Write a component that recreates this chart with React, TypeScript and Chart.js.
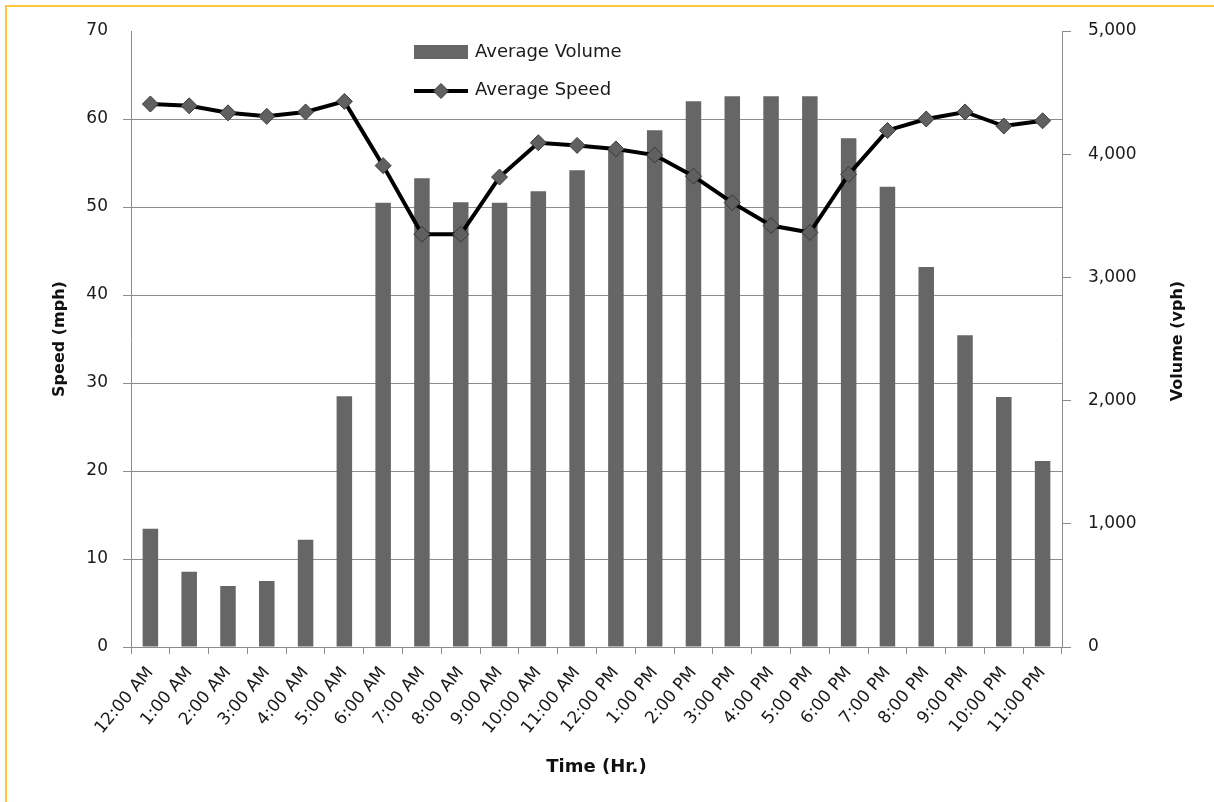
import React, { useEffect, useRef } from "react";
import { Chart, registerables } from "chart.js";

Chart.register(...registerables);

const hours: string[] = [
  "12:00 AM", "1:00 AM", "2:00 AM", "3:00 AM", "4:00 AM", "5:00 AM",
  "6:00 AM", "7:00 AM", "8:00 AM", "9:00 AM", "10:00 AM", "11:00 AM",
  "12:00 PM", "1:00 PM", "2:00 PM", "3:00 PM", "4:00 PM", "5:00 PM",
  "6:00 PM", "7:00 PM", "8:00 PM", "9:00 PM", "10:00 PM", "11:00 PM",
];

const averageVolume: number[] = [
  960, 610, 495, 535, 870, 2035, 3605, 3805, 3610, 3605, 3700, 3870,
  4040, 4195, 4430, 4470, 4470, 4470, 4130, 3735, 3085, 2530, 2030, 1510,
];

const averageSpeed: number[] = [
  61.7, 61.5, 60.7, 60.3, 60.8, 62.0, 54.7, 46.9, 46.9, 53.4, 57.3, 57.0,
  56.6, 55.9, 53.5, 50.5, 47.9, 47.1, 53.7, 58.7, 60.0, 60.8, 59.2, 59.8,
];

const seriesNames: string[] = ["Average Volume", "Average Speed"];
const axisTitles = { x: "Time (Hr.)", speed: "Speed (mph)", volume: "Volume (vph)" };

const TICK_FONT = "'DejaVu Sans', sans-serif";
const GRID = "#8c8c8c";
const BAR = "#666666";

const legendPlugin = {
  id: "customLegend",
  afterDraw(chart: any) {
    const ctx = chart.ctx;
    ctx.save();
    // Volume swatch
    const x0 = 414;
    ctx.fillStyle = BAR;
    ctx.fillRect(x0, 45, 54, 14);
    // Speed line + diamond
    ctx.strokeStyle = "#000";
    ctx.lineWidth = 4;
    ctx.beginPath();
    ctx.moveTo(x0, 91);
    ctx.lineTo(x0 + 54, 91);
    ctx.stroke();
    ctx.fillStyle = "#606060";
    ctx.strokeStyle = "#3a3a3a";
    ctx.lineWidth = 1;
    ctx.beginPath();
    const cx = x0 + 27, cy = 91, r = 7.5;
    ctx.moveTo(cx - r, cy);
    ctx.lineTo(cx, cy - r);
    ctx.lineTo(cx + r, cy);
    ctx.lineTo(cx, cy + r);
    ctx.closePath();
    ctx.fill();
    ctx.stroke();
    ctx.fillStyle = "#1a1a1a";
    ctx.font = `18px ${TICK_FONT}`;
    ctx.textBaseline = "middle";
    ctx.textAlign = "left";
    ctx.fillText(seriesNames[0], 475, 52);
    ctx.fillText(seriesNames[1], 475, 90);

    // Right axis title, reading bottom-to-top
    const area = chart.chartArea;
    ctx.translate(1178, (area.top + area.bottom) / 2 + 2);
    ctx.rotate(-Math.PI / 2);
    ctx.textAlign = "center";
    ctx.fillStyle = "#111";
    ctx.font = `bold 16px ${TICK_FONT}`;
    ctx.fillText(axisTitles.volume, 0, 0);
    ctx.restore();
  },
};

export default function App() {
  const canvasRef = useRef<HTMLCanvasElement | null>(null);

  useEffect(() => {
    document.body.style.margin = "0";
    document.body.style.overflow = "hidden";
    const canvas = canvasRef.current;
    if (!canvas) return;
    const chart = new Chart(canvas, {
      type: "bar",
      data: {
        labels: hours,
        datasets: [
          {
            type: "line",
            label: seriesNames[1],
            data: averageSpeed,
            yAxisID: "ySpeed",
            borderColor: "#000000",
            borderWidth: 4,
            pointStyle: "rectRot",
            pointRadius: 8,
            pointBackgroundColor: "#606060",
            pointBorderColor: "#3a3a3a",
            pointBorderWidth: 1,
            tension: 0,
            order: 0,
          } as any,
          {
            type: "bar",
            label: seriesNames[0],
            data: averageVolume,
            yAxisID: "yVolume",
            backgroundColor: BAR,
            borderWidth: 0,
            categoryPercentage: 1,
            barPercentage: 0.4,
            order: 1,
          },
        ],
      },
      options: {
        animation: false,
        responsive: true,
        maintainAspectRatio: false,
        layout: { padding: { top: 31, left: 0, right: 0, bottom: 0 } },
        plugins: {
          legend: { display: false },
          tooltip: { enabled: false },
        },
        scales: {
          x: {
            grid: {
              display: true,
              drawOnChartArea: false,
              drawTicks: true,
              tickLength: 7,
              color: GRID,
              offset: true,
            },
            border: { display: true, color: GRID, width: 1 },
            ticks: {
              autoSkip: false,
              minRotation: 50,
              maxRotation: 50,
              padding: 9,
              color: "#1a1a1a",
              font: { family: TICK_FONT, size: 17 },
            },
            title: {
              display: true,
              text: axisTitles.x,
              color: "#111",
              font: { family: TICK_FONT, size: 18, weight: "bold" },
              padding: { top: 0, bottom: 24 },
            },
            afterFit: (scale: any) => {
              scale.height = 155;
            },
          },
          ySpeed: {
            position: "left",
            min: 0,
            max: 70,
            ticks: {
              stepSize: 10,
              padding: 15,
              color: "#1a1a1a",
              font: { family: TICK_FONT, size: 17 },
            },
            grid: {
              drawTicks: true,
              tickLength: 8,
              color: (c: any) => (c.tick && c.tick.value === 70 ? "rgba(0,0,0,0)" : GRID),
            },
            border: { display: true, color: GRID, width: 1 },
            title: {
              display: true,
              text: axisTitles.speed,
              color: "#111",
              font: { family: TICK_FONT, size: 16, weight: "bold" },
              padding: { top: 50, bottom: 0 },
            },
            afterFit: (scale: any) => {
              scale.width = 131;
            },
          },
          yVolume: {
            position: "right",
            min: 0,
            max: 5000,
            ticks: {
              stepSize: 1000,
              padding: 17,
              color: "#1a1a1a",
              font: { family: TICK_FONT, size: 17 },
              callback: (v: any) => Number(v).toLocaleString("en-US"),
            },
            grid: {
              drawOnChartArea: false,
              drawTicks: true,
              tickLength: 9,
              color: GRID,
            },
            border: { display: true, color: GRID, width: 1 },
            title: { display: false },
            afterFit: (scale: any) => {
              scale.width = 152;
            },
          },
        },
      },
      plugins: [legendPlugin],
    });
    return () => chart.destroy();
  }, []);

  return (
    <div
      style={{
        position: "fixed",
        left: 0,
        top: 0,
        width: 1214,
        height: 802,
        background: "#ffffff",
      }}
    >
      <div
        style={{
          position: "absolute",
          left: 5,
          top: 5,
          right: -10,
          bottom: -10,
          borderTop: "2px solid #FFC83C",
          borderLeft: "2px solid #FFC83C",
          pointerEvents: "none",
        }}
      />
      <canvas ref={canvasRef} style={{ position: "absolute", left: 0, top: 0 }} />
    </div>
  );
}
